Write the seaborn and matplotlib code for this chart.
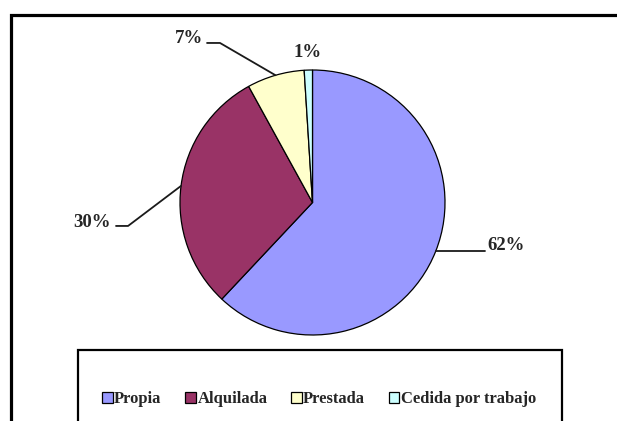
import numpy as np
import seaborn as sns
import matplotlib
matplotlib.use('Agg')
import matplotlib.pyplot as plt
from matplotlib.patches import Rectangle

# data
categories = ['Propia', 'Alquilada', 'Prestada', 'Cedida por trabajo']
shares = [62, 30, 7, 1]
pct_labels = ['62%', '30%', '7%', '1%']
hex_colors = ['#9999FF', '#993366', '#FFFFCC', '#CCFFFF']

sns.set_style('white')
plt.rcParams['font.family'] = ['Liberation Serif', 'DejaVu Serif']
plt.rcParams['font.weight'] = 'bold'

palette = sns.color_palette(hex_colors)

fig = plt.figure(figsize=(6.17, 4.21), dpi=100)
fig.patch.set_facecolor('white')

# outer frame (runs off the right and bottom of the picture)
fig.patches.append(Rectangle((11 / 617, -0.2), 1.2, 1.2 - 15 / 421,
                             transform=fig.transFigure, fill=False,
                             edgecolor='black', linewidth=2.3, clip_on=False))
# legend box
fig.patches.append(Rectangle((78 / 617, -0.2), (562 - 78) / 617, 0.2 + (421 - 350) / 421,
                             transform=fig.transFigure, fill=False,
                             edgecolor='black', linewidth=1.6, clip_on=False))

# pie axes: centre (312.5, 202.5) px, radius 132.5 px
ax = fig.add_axes([180 / 617, (421 - 335) / 421, 265 / 617, 265 / 421])
wedges, _ = ax.pie(shares, colors=palette, startangle=90, counterclock=False,
                   wedgeprops=dict(edgecolor='black', linewidth=0.9))
ax.set_xlim(-1, 1)
ax.set_ylim(-1, 1)
ax.set_aspect('equal')
ax.axis('off')

# label layout: (text x, text y, ha, elbow x, end x, line y) in pie units
layout = [
    (1.317, -0.330, 'left', None, 1.30, None),
    (-1.521, -0.150, 'right', -1.392, -1.483, -0.177),
    (-0.826, 1.240, 'right', -0.698, -0.796, 1.204),
    (None, None, 'center', None, None, None),
]

for w, lab, (tx, ty, ha, ex, endx, ly) in zip(wedges, pct_labels, layout):
    mid = np.deg2rad((w.theta1 + w.theta2) / 2)
    axx, axy = np.cos(mid), np.sin(mid)
    if tx is None:
        ax.text(1.13 * axx, 1.13 * axy, lab, ha='center', va='center',
                fontsize=13.5, fontweight='bold', clip_on=False)
        continue
    if ex is None:
        ax.plot([axx, endx], [axy, axy], color='#1a1a1a', lw=1.3, clip_on=False)
        ax.text(tx, axy + 0.045, lab, ha=ha, va='center', fontsize=13.5,
                fontweight='bold', clip_on=False)
    else:
        ax.plot([axx, ex, endx], [axy, ly, ly], color='#1a1a1a', lw=1.3, clip_on=False)
        ax.text(tx, ty, lab, ha=ha, va='center', fontsize=13.5,
                fontweight='bold', clip_on=False)

fig.legend(wedges, categories, loc='center', bbox_to_anchor=(319 / 617, 1 - 399 / 421),
           ncol=4, frameon=False, handlelength=0.65, handleheight=0.65,
           handletextpad=0.1, columnspacing=1.4,
           prop=dict(family='Liberation Serif', weight='bold', size=12))

fig.savefig('out.png', dpi=100)
